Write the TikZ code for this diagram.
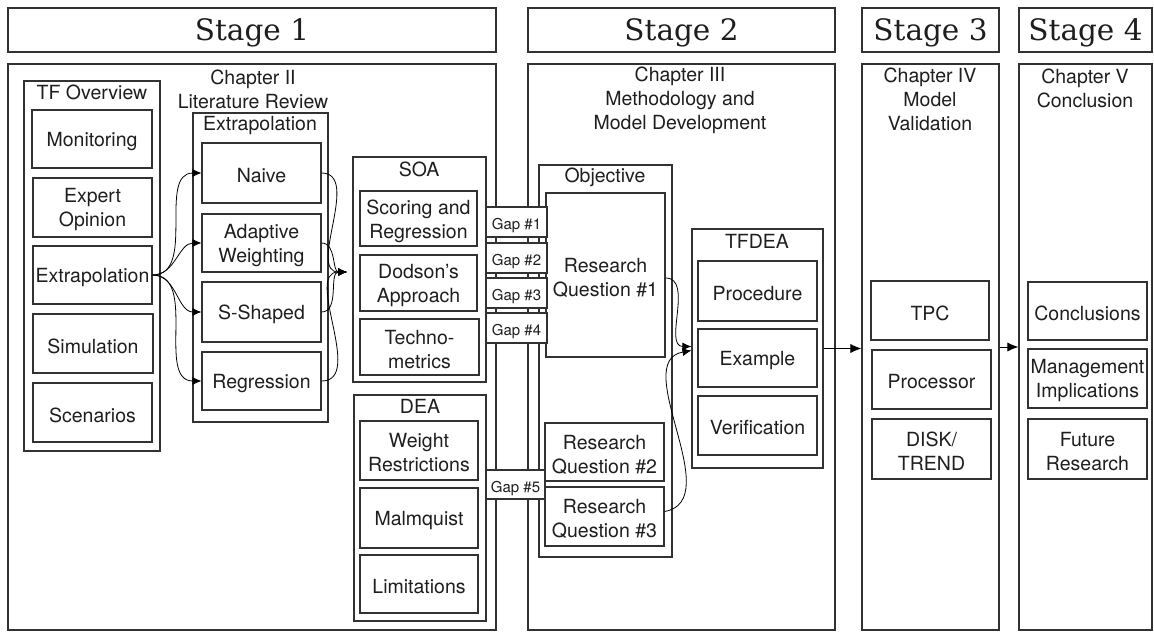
\documentclass[tikz,border=0pt]{standalone}
\usepackage{fontspec}
\setmainfont{TeX Gyre Heros}
\newfontfamily\stagefam{DejaVu Serif}
\usetikzlibrary{arrows.meta}
\definecolor{linec}{RGB}{50,50,50}
\definecolor{textc}{RGB}{30,30,30}
\newcommand\lblfont{\fontsize{19.5}{24}\selectfont}
\newcommand\gapfont{\fontsize{15}{18}\selectfont}
\newcommand\stagefont{\stagefam\fontsize{29.5}{33}\selectfont}
% box from corners: {box style} {text style} {name} {x1} {y1} {x2} {y2} {text}
\newcommand\mkbox[8]{%
  \pgfmathsetmacro\bxcx{(#4+#6)/2}\pgfmathsetmacro\bxcy{(#5+#7)/2}%
  \pgfmathsetmacro\bxw{#6-#4}\pgfmathsetmacro\bxh{#7-#5}%
  \node[#1, minimum width=\bxw pt, minimum height=\bxh pt] (#3) at (\bxcx,\bxcy) {};
  \node[#2] (#3-t) at (#3.center) {#8};}
\begin{document}
\begin{tikzpicture}[x=1pt,y=-1pt,
  bx/.style={draw=linec, line width=1.1pt, inner sep=0pt},
  gapbx/.style={bx, fill=white},
  txt/.style={inner sep=0pt, align=center, font=\lblfont, text=textc, yshift=-2.5pt},
  gaptxt/.style={txt, font=\gapfont, yshift=-1.5pt},
  stagetxt/.style={txt, font=\stagefont, yshift=0pt},
  ttl/.style={inner sep=0pt, align=center, font=\lblfont, text=textc},
  arr/.style={draw=black, line width=0.8pt, -{Latex[length=11pt,width=9pt]}},
  farr/.style={draw=black, line width=0.8pt, -{Latex[length=9pt,width=8pt]}}]
\useasboundingbox (0,0) rectangle (1154,632);
% stage headers
\mkbox{bx}{stagetxt}{s1}{8}{8}{496}{52}{Stage 1}
\mkbox{bx}{stagetxt}{s2}{528}{8}{835}{52}{Stage 2}
\mkbox{bx}{stagetxt}{s3}{862}{8}{999}{52}{Stage 3}
\mkbox{bx}{stagetxt}{s4}{1019}{8}{1152}{52}{Stage 4}
% chapter frames
\mkbox{bx}{txt}{c2}{8}{64}{496}{630}{}
\mkbox{bx}{txt}{c3}{528}{64}{835}{630}{}
\mkbox{bx}{txt}{c4}{862}{64}{999}{630}{}
\mkbox{bx}{txt}{c5}{1019}{64}{1152}{630}{}
\node[ttl] (c2t) at (253,89) {Chapter II\\Literature Review};
\node[ttl] (c3t) at (680,100) {Chapter III\\Methodology and\\Model Development};
\node[ttl] (c4t) at (930,99) {Chapter IV\\Model\\Validation};
\node[ttl] (c5t) at (1085,88) {Chapter V\\Conclusion};
% TF overview
\mkbox{bx}{txt}{tfo}{24}{81}{160}{451}{}
\node[ttl] (tfot) at (92,92) {TF Overview};
\mkbox{bx}{txt}{mon}{32}{110}{152}{168}{Monitoring}
\mkbox{bx}{txt}{exp}{33}{178}{152}{237}{Expert\\Opinion}
\mkbox{bx}{txt}{ex}{33}{246}{152}{304}{Extrapolation}
\mkbox{bx}{txt}{sim}{33}{314}{153}{373}{Simulation}
\mkbox{bx}{txt}{scn}{33}{383}{152}{442}{Scenarios}
% Extrapolation group
\mkbox{bx}{txt}{exg}{193}{113}{328}{422}{}
\node[ttl] (exgt) at (260,126) {Extrapolation};
\mkbox{bx}{txt}{nai}{202}{143}{321}{203}{Naive}
\mkbox{bx}{txt}{ada}{202}{214}{321}{272}{Adaptive\\Weighting}
\mkbox{bx}{txt}{ssh}{202}{282}{321}{342}{S-Shaped}
\mkbox{bx}{txt}{reg}{202}{352}{321}{410}{Regression}
% SOA
\mkbox{bx}{txt}{soa}{353}{157}{486}{382}{}
\node[ttl] (soat) at (419,169) {SOA};
\mkbox{bx}{txt}{scr}{360}{191}{477}{246}{Scoring and\\Regression}
\mkbox{bx}{txt}{dod}{360}{255}{477}{311}{Dodson's\\Approach}
\mkbox{bx}{txt}{tec}{360}{319}{479}{375}{Techno-\\metrics}
% DEA
\mkbox{bx}{txt}{dea}{354}{395}{486}{621}{}
\node[ttl] (deat) at (420,406) {DEA};
\mkbox{bx}{txt}{wr}{360}{421}{478}{480}{Weight\\Restrictions}
\mkbox{bx}{txt}{mal}{360}{488}{478}{548}{Malmquist}
\mkbox{bx}{txt}{lim}{360}{555}{478}{613}{Limitations}
% Objective
\mkbox{bx}{txt}{obj}{539}{165}{672}{557}{}
\node[ttl] (objt) at (605,177) {Objective};
\mkbox{bx}{txt}{rq1}{546}{193}{665}{357}{Research\\Question \#1}
\mkbox{bx}{txt}{rq2}{545}{423}{664}{481}{Research\\Question \#2}
\mkbox{bx}{txt}{rq3}{545}{487}{664}{546}{Research\\Question \#3}
% gaps
\mkbox{gapbx}{gaptxt}{g1}{486}{207}{547}{237}{Gap \#1}
\mkbox{gapbx}{gaptxt}{g2}{486}{243}{547}{273}{Gap \#2}
\mkbox{gapbx}{gaptxt}{g3}{486}{278}{547}{308}{Gap \#3}
\mkbox{gapbx}{gaptxt}{g4}{486}{313}{547}{343}{Gap \#4}
\mkbox{gapbx}{gaptxt}{g5}{486}{470}{545}{499}{Gap \#5}
% TFDEA
\mkbox{bx}{txt}{tfd}{692}{229}{823}{468}{}
\node[ttl] (tfdt) at (757,241) {TFDEA};
\mkbox{bx}{txt}{pro}{698}{261}{817}{321}{Procedure}
\mkbox{bx}{txt}{exa}{698}{329}{817}{387}{Example}
\mkbox{bx}{txt}{ver}{698}{396}{817}{455}{Verification}
% Chapter IV
\mkbox{bx}{txt}{tpc}{871}{281}{989}{340}{TPC}
\mkbox{bx}{txt}{prc}{872}{350}{991}{409}{Processor}
\mkbox{bx}{txt}{dsk}{872}{419}{991}{479}{DISK/\\TREND}
% Chapter V
\mkbox{bx}{txt}{con}{1028}{282}{1147}{340}{Conclusions}
\mkbox{bx}{txt}{man}{1028}{349}{1147}{408}{Management\\Implications}
\mkbox{bx}{txt}{fut}{1028}{419}{1147}{479}{Future\\Research}
% connectors
\draw[farr] (ex.east) to[out=0,in=180] (nai.west);
\draw[farr] (ex.east) to[out=0,in=180] (ada.west);
\draw[farr] (ex.east) to[out=0,in=180] (ssh.west);
\draw[farr] (ex.east) to[out=0,in=180] (reg.west);
\coordinate (mrg) at (347,272);
\draw[farr] (nai.east) to[out=0,in=180] (mrg);
\draw[farr] (ada.east) to[out=0,in=180] (mrg);
\draw[farr] (ssh.east) to[out=0,in=180] (mrg);
\draw[farr] (reg.east) to[out=0,in=180] (mrg);
\draw[farr] ([yshift=-3pt]rq1.east) to[out=0,in=180] ([yshift=2pt]tfd.west);
\draw[farr] ([yshift=5pt]rq3.east) to[out=10,in=190] ([yshift=-2pt]tfd.west);
\draw[arr] (tfd.east) -- (tfd.east -| c4.west);
\draw[arr] (c4.east) -- (c5.west);
\end{tikzpicture}
\end{document}
